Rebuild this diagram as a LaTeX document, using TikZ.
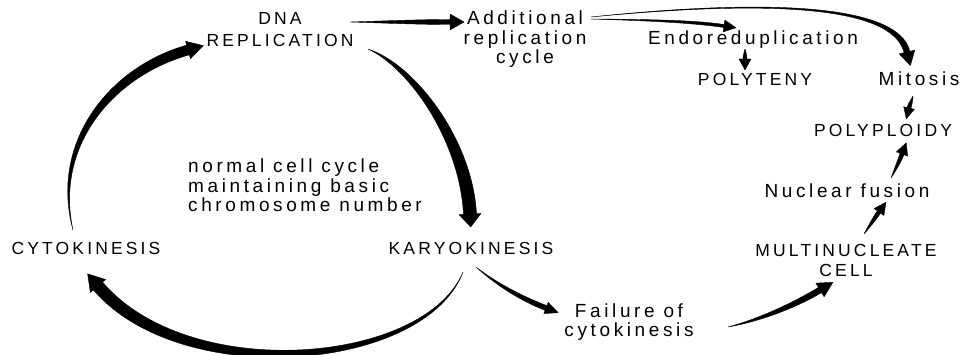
\documentclass[tikz,border=0pt]{standalone}
\usepackage{fontspec}
\newfontfamily\lsf[LetterSpace=18]{Liberation Sans}
\newfontfamily\lsl[LetterSpace=19]{Liberation Sans}
\usetikzlibrary{calc}
\tikzset{
  lbl/.style={inner sep=0pt, font=\lsf\fontsize{17.5}{19}\selectfont},
  lcl/.style={inner sep=0pt, font=\lsl\fontsize{19}{19}\selectfont},
  arrowfill/.style={fill=black, draw=black, line width=0.4pt, line join=round}
}
% tapered arrow: start, control1, control2, head base, half body width, head half width, head length, half width at control1
\newcommand\taparrow[8]{%
  \coordinate (tS) at (#1);
  \coordinate (tA) at (#2);
  \coordinate (tB) at (#3);
  \coordinate (tE) at (#4);
  \fill[arrowfill] (tS) .. controls ($(tA)!#8!-90:(tB)$) and ($(tB)!#5!-90:(tE)$) .. ($(tE)!#5!90:(tB)$)
    -- ($(tE)!#6!90:(tB)$) -- ($(tE)!-#7!(tB)$) -- ($(tE)!#6!-90:(tB)$) -- ($(tE)!#5!-90:(tB)$)
    .. controls ($(tB)!#5!90:(tE)$) and ($(tA)!#8!90:(tB)$) .. (tS) -- cycle;}
\begin{document}
\begin{tikzpicture}[x=1pt,y=-1pt]
\fill[white] (0,0) rectangle (961,355);
\useasboundingbox (0,0) rectangle (961,355);

\node[lbl, anchor=base] (dna) at (280,25) {\fontsize{17.5}{22}\selectfont\begin{tabular}[t]{@{}c@{}}DNA\\REPLICATION\end{tabular}};
\node[lcl, anchor=base] (add) at (525,25) {\fontsize{19}{19}\selectfont\begin{tabular}[t]{@{}c@{}}Additional\\replication\\cycle\end{tabular}};
\node[lcl, anchor=base] (endo) at (753,45) {Endoreduplication};
\node[lbl, anchor=base] (polyteny) at (755,86) {POLYTENY};
\node[lcl, anchor=base] (mitosis) at (919,86) {Mitosis};
\node[lbl, anchor=base] (polyploidy) at (883,137) {POLYPLOIDY};
\node[lcl, anchor=base] (nuc) at (847,198) {Nuclear fusion};
\node[lbl, anchor=base] (multi) at (846,257) {\fontsize{17.5}{20}\selectfont\begin{tabular}[t]{@{}c@{}}MULTINUCLEATE\\CELL\end{tabular}};
\node[lcl, anchor=base] (fail) at (629,317) {\fontsize{19}{17.5}\selectfont\begin{tabular}[t]{@{}c@{}}Failure of\\cytokinesis\end{tabular}};
\node[lbl, anchor=base] (karyo) at (471,255) {KARYOKINESIS};
\node[lbl, anchor=base] (cyto) at (86,255) {CYTOKINESIS};
\node[lcl, anchor=base west] (normal) at (188,173) {\fontsize{19}{19}\selectfont\begin{tabular}[t]{@{}l@{}}normal cell cycle\\maintaining basic\\chromosome number\end{tabular}};

% DNA replication -> additional replication cycle
\taparrow{$(dna.base)+(70,-3)$}{383,22}{417,22}{$(add.base)+(-75,-3)$}{2.5pt}{8pt}{14pt}{1pt}
% additional -> endoreduplication
\taparrow{$(add.base)+(66,-6)$}{640,20}{690,21}{$(endo.base)+(-29,-19)$}{1.5pt}{6pt}{12pt}{0.5pt}
% additional -> mitosis
\taparrow{$(add.base)+(66,-8)$}{760,0}{895,3}{$(mitosis.base)+(-12,-34)$}{3pt}{8pt}{14pt}{0.8pt}
% endoreduplication -> polyteny
\taparrow{$(endo.base)+(-8,4)$}{745,52}{745,56}{$(polyteny.base)+(-10,-27)$}{2pt}{6pt}{11pt}{1pt}
% mitosis -> polyploidy
\taparrow{$(mitosis.base)+(-6,10)$}{912,100}{910,104}{$(polyploidy.base)+(26,-29)$}{2pt}{5.5pt}{11pt}{1pt}
% nuclear fusion -> polyploidy
\taparrow{$(nuc.base)+(44,-20)$}{895,170}{899,162}{$(polyploidy.base)+(19,17)$}{2pt}{6pt}{12pt}{1pt}
% multinucleate -> nuclear fusion
\taparrow{$(multi.base)+(18,-23)$}{869,227}{874,219}{$(nuc.base)+(32,14)$}{2pt}{6pt}{12pt}{1pt}
% failure -> multinucleate
\taparrow{$(fail.base)+(99,10)$}{760,320}{795,305}{$(multi.base)+(-26,33)$}{3pt}{8pt}{15pt}{1.5pt}
% karyokinesis -> failure
\taparrow{$(karyo.base)+(5,12)$}{495,283}{520,298}{$(fail.base)+(-83,-9)$}{2.5pt}{6pt}{13pt}{1pt}
% karyokinesis -> cytokinesis
\taparrow{$(karyo.base)+(-8,17)$}{425,368}{185,388}{$(cyto.base)+(12,31)$}{6pt}{10pt}{16pt}{4pt}
% cytokinesis -> DNA replication
\taparrow{$(cyto.base)+(-13,-25)$}{52,145}{110,72}{$(dna.base)+(-92,25)$}{5pt}{9pt}{16pt}{3.5pt}
% DNA replication -> karyokinesis
\taparrow{$(dna.base)+(88,24)$}{412,66}{466,140}{$(karyo.base)+(-1,-41)$}{6.5pt}{11pt}{13pt}{3.5pt}
\end{tikzpicture}
\end{document}
